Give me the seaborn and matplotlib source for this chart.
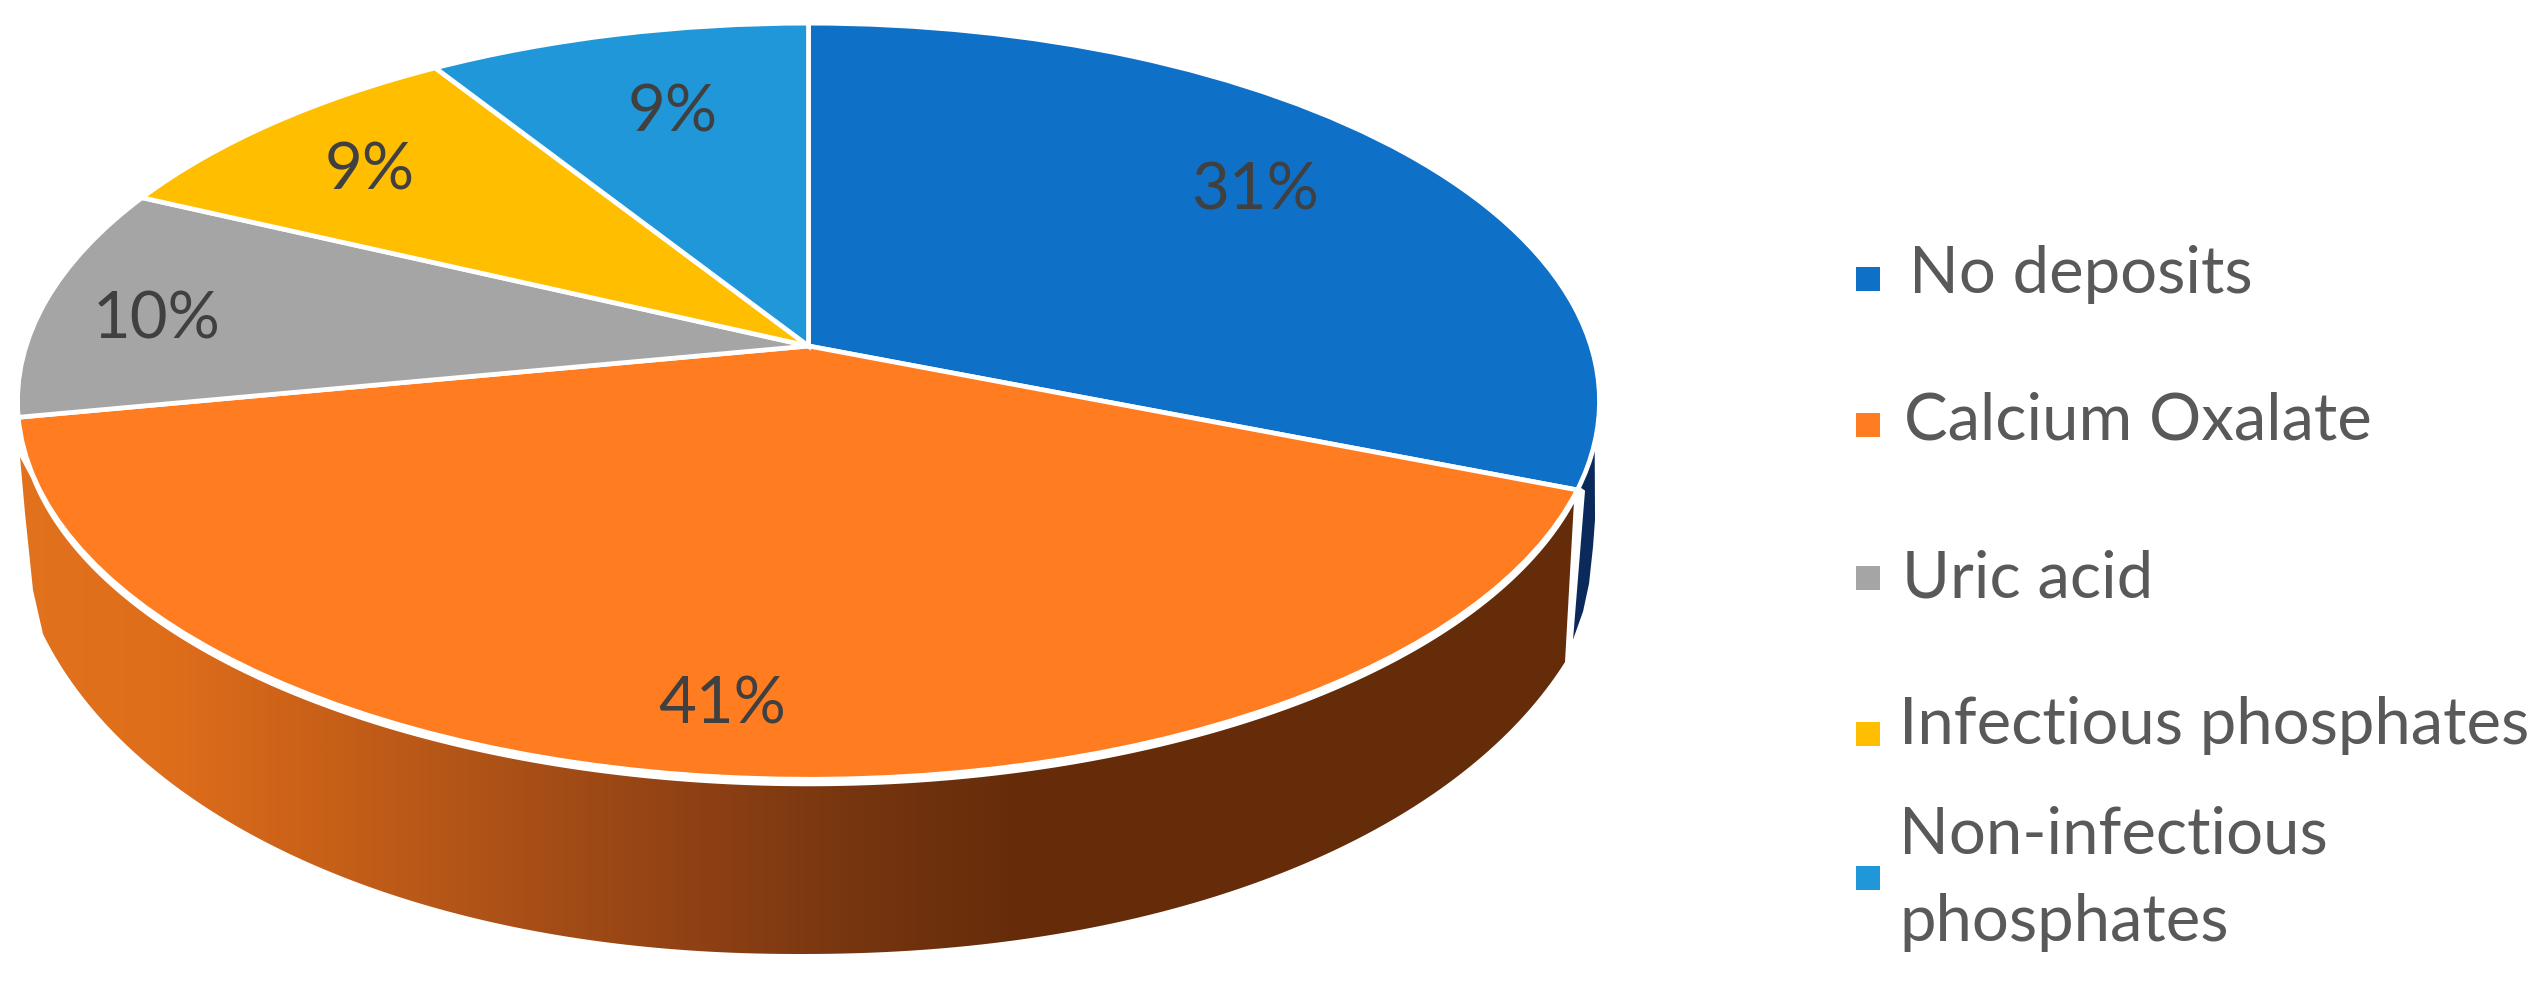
import numpy as np
import matplotlib
matplotlib.use("Agg")
import matplotlib.pyplot as plt
import matplotlib.transforms as mtransforms
from matplotlib.colors import LinearSegmentedColormap
from matplotlib.path import Path
from matplotlib.patches import PathPatch
import seaborn as sns

# ---- data ----
categories = ["No deposits", "Calcium Oxalate", "Uric acid",
              "Infectious phosphates", "Non-infectious\nphosphates"]
values = [31, 41, 10, 9, 9]

# ---- style / layout ----
slice_colors = ["#0E70C6", "#FF7C20", "#A5A5A5", "#FFBF00", "#2097D8"]
label_xy = [(1255, 191), (722, 705), (157, 320), (370, 171), (673, 113)]
swatch_y = [279, 425, 578, 734, 878]
legend_x = [1909, 1904, 1902, 1899, 1899]
legend_baseline = [293, 439, 597, 744, 853]
LINE_GAP = 88

sns.set_theme(style="white")
plt.rcParams["font.family"] = ["Lato", "DejaVu Sans"]

W, H = 2545, 986
fig = plt.figure(figsize=(W / 100, H / 100), dpi=100, facecolor="white")
ax = fig.add_axes([0, 0, 1, 1])

CX, CY, A, B, K = 808.5, 346.0, 782.5, 370.0, 0.146


class Perspective(mtransforms.Transform):
    """Tilted view of the unit-circle pie, expressed in pixel-like data units."""
    input_dims = output_dims = 2
    is_separable = False
    has_inverse = False

    def transform_non_affine(self, pts):
        pts = np.asarray(pts, dtype=float)
        w = 1 + K * pts[:, 1]
        return np.column_stack((CX + A * pts[:, 0] / w, CY - B * pts[:, 1] / w))

    def transform_path_non_affine(self, path):
        return Path(self.transform_non_affine(path.vertices), path.codes)


persp = Perspective()


def rim(deg_from_top):
    t = np.radians(np.asarray(deg_from_top, dtype=float))
    return persp.transform_non_affine(np.column_stack((np.sin(t), np.cos(t))))


# slices through the pie machinery, then tilted
wedges, _ = ax.pie(values, colors=slice_colors, startangle=90, counterclock=False,
                   wedgeprops=dict(edgecolor="white", linewidth=3.4, zorder=5))
for w in wedges:
    w.set_transform(persp + ax.transData)

ax.set_aspect("auto")
ax.set_xlim(0, W)
ax.set_ylim(H, 0)
ax.axis("off")

# side wall
edges = np.cumsum(values) / np.sum(values) * 360


def base_curve(x):
    d = np.where(x < 800, (800.0 - x) / 790.0, (x - 800.0) / 815.0)
    return 490 + 464 * (1 - d ** 2.1) ** (1 / 2.1)


top = rim(np.linspace(edges[0] + 1.0, edges[1] - 8, 240)) + [0, 7]
bx = np.linspace(43, 1565, 400)
bottom = np.column_stack((bx, base_curve(bx)))
wall = np.vstack((top, [[20, 457], [25, 513], [33, 590]], bottom))
wall_patch = PathPatch(Path(np.vstack((wall, wall[:1])), closed=True),
                       facecolor="none", edgecolor="none", transform=ax.transData)
ax.add_patch(wall_patch)
grad = LinearSegmentedColormap.from_list("wall", [
    (0.00, "#E2721E"), (0.10, "#DF6E1B"), (0.20, "#C86018"), (0.33, "#A84F17"),
    (0.44, "#8E4014"), (0.54, "#75350F"), (0.63, "#672D0B"), (1.00, "#652C0A")])
im = ax.imshow(np.linspace(0, 1, 600)[None, :], cmap=grad, extent=(0, 1600, H, 0),
               aspect="auto", zorder=1, interpolation="bilinear")
im.set_clip_path(wall_patch)
ax.set_xlim(0, W)
ax.set_ylim(H, 0)

# dark sliver of the first slice's wall
r = rim(np.linspace(edges[0] - 7, edges[0] - 0.5, 10))
end = r[-1]
sliver = np.vstack((r, end + [6, 4], end + [-6, 153], end + [4, 125], end + [10, 97],
                    end + [14, 60], end + [16, 33]))
ax.fill(sliver[:, 0], sliver[:, 1], color="#0B2A5B", lw=0, zorder=1)

# value labels
for v, (x, y) in zip(values, label_xy):
    ax.text(x, y, f"{v}%", fontsize=47, color="#404040", ha="center", va="center", zorder=6)

# legend
ax.scatter([1868] * len(categories), swatch_y, s=275, marker="s",
           c=slice_colors, linewidths=0, zorder=6)
for name, x, y in zip(categories, legend_x, legend_baseline):
    for i, part in enumerate(name.split("\n")):
        ax.text(x, y + i * LINE_GAP, part, fontsize=47, color="#595959",
                ha="left", va="baseline", zorder=6)

fig.savefig("out.png", dpi=100, facecolor="white")
